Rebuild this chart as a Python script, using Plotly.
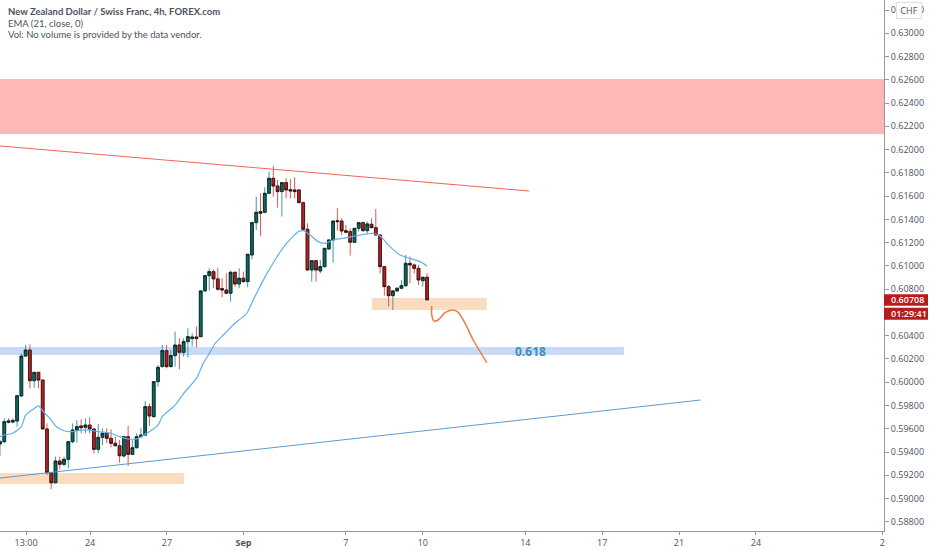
"""NZD/CHF 4h chart with EMA and hand-drawn zones."""

import plotly.graph_objects as go

bar_open = [
    .59469, .59489, .59655, .59658, .59667, .59882, .60225, .60277, .60013, .60085,
    .60019, .59598, .59222, .59136, .59323, .59294, .59337, .59489, .59589, .59624,
    .59612, .59632, .59598, .59423, .59526, .59561, .59518, .59475, .59454, .59366,
    .59532, .59380, .59437, .59532, .59546, .59790, .59704, .60005, .60134, .60272,
    .60134, .60229, .60320, .60257, .60349, .60375, .60389, .60392, .60785, .60916,
    .60951, .60888, .60805, .60793, .60765, .60945, .60845, .60894, .60865, .61094,
    .61372, .61467, .61461, .61624, .61753, .61687, .61639, .61716, .61656, .61653,
    .61653, .61544, .61315, .60965, .61045, .60957, .60994, .61146, .61223, .61389,
    .61386, .61303, .61295, .61203, .61323, .61372, .61303, .61358, .61329, .61266,
    .60994, .60822, .60744, .60785, .60808, .60830, .61022, .61008, .60979, .60873, .60902,
]
bar_high = [
    .59503, .59690, .59690, .59690, .59890, .60248, .60320, .60326, .60085, .60085,
    .60019, .59646, .59222, .59360, .59360, .59360, .59489, .59646, .59675, .59681,
    .59690, .59698, .59598, .59641, .59604, .59604, .59595, .59532, .59503, .59538,
    .59624, .59503, .59561, .59604, .59839, .59818, .60005, .60148, .60320, .60320,
    .60277, .60435, .60378, .60378, .60464, .60421, .60478, .60785, .60922, .60980,
    .60971, .60985, .60894, .60937, .60959, .60951, .60980, .60951, .61100, .61381,
    .61596, .61624, .61676, .61811, .61859, .61739, .61716, .61753, .61748, .61762,
    .61659, .61553, .61366, .61045, .61045, .61051, .61151, .61229, .61389, .61495,
    .61409, .61352, .61323, .61323, .61372, .61381, .61381, .61409, .61490, .61272,
    .60994, .60836, .60793, .60813, .60879, .61094, .61080, .61022, .61008, .60908, .60936,
]
bar_low = [
    .59366, .59475, .59646, .59646, .59618, .59876, .60220, .59947, .59953, .59947,
    .59598, .59202, .59082, .59131, .59251, .59280, .59260, .59475, .59480, .59561,
    .59561, .59561, .59389, .59389, .59460, .59475, .59440, .59452, .59308, .59354,
    .59280, .59380, .59432, .59518, .59538, .59624, .59698, .59962, .60128, .60119,
    .60128, .60134, .60111, .60220, .60214, .60306, .60297, .60392, .60779, .60788,
    .60808, .60788, .60730, .60759, .60693, .60822, .60808, .60856, .60816, .61057,
    .61309, .61258, .61452, .61624, .61596, .61501, .61424, .61581, .61581, .61581,
    .61538, .61309, .60959, .60865, .60865, .60936, .60985, .61137, .61028, .61303,
    .61266, .61280, .61088, .61203, .61295, .61295, .61272, .61323, .61260, .60936,
    .60744, .60650, .60621, .60779, .60802, .60822, .60851, .60936, .60836, .60822, .60708,
]
bar_close = [
    .59489, .59661, .59667, .59672, .59884, .60225, .60277, .60013, .60085, .60019,
    .59598, .59222, .59136, .59323, .59294, .59337, .59489, .59589, .59618, .59609,
    .59632, .59598, .59423, .59526, .59561, .59518, .59475, .59454, .59368, .59532,
    .59380, .59437, .59532, .59546, .59790, .59710, .60005, .60128, .60272, .60134,
    .60229, .60320, .60257, .60349, .60392, .60389, .60375, .60785, .60916, .60951,
    .60888, .60799, .60793, .60765, .60945, .60845, .60894, .60865, .61100, .61372,
    .61461, .61452, .61624, .61753, .61687, .61639, .61716, .61653, .61644, .61639,
    .61544, .61315, .60965, .61045, .60965, .60994, .61151, .61223, .61386, .61381,
    .61300, .61289, .61203, .61323, .61372, .61303, .61361, .61329, .61266, .60994,
    .60822, .60744, .60785, .60808, .60830, .61022, .61008, .60979, .60879, .60902, .60708,
]
bars = list(range(len(bar_open)))

ema_bar = [
    0, 1, 3, 5, 6, 8, 9, 10, 12, 13, 15, 17, 19, 21, 23, 26, 28, 30, 32, 34, 37,
    38, 41, 43, 46, 47.6, 48.8, 50.4, 52.3, 55, 57.8, 59.3, 62.1, 64.4, 67.1,
    69.9, 71, 72.6, 74.5, 76.1, 78, 81.2, 84.3, 87.4, 89, 91.3, 93.7, 96, 98.4, 100,
]
ema_price = [
    .59532, .59546, .59561, .59618, .59718, .59775, .59796, .59755, .59675, .59624,
    .59583, .59575, .59589, .59589, .59575, .59561, .59532, .59512, .59512, .59552,
    .59632, .59704, .59804, .59904, .60033, .60162, .60234, .60335, .60406, .60507,
    .60593, .60707, .60908, .61051, .61194, .61295, .61303, .61266, .61209, .61194,
    .61223, .61243, .61266, .61280, .61257, .61166, .61094, .61065, .61037, .61000,
]

resistance_bar = [0, 123.9]
resistance_price = [.62031, .61644]
support_bar = [0, 164]
support_price = [.59176, .59847]

path_bar = [101.1, 101.1, 101.6, 102.6, 104.2, 106, 107.3, 108.9, 110.8, 114]
path_price = [.60656, .60578, .60527, .60535, .60598, .60621, .60601, .60507, .60363, .60168]

# zones: bar from, bar to, price top, price bottom, colour
red_zone = (0, 207, .62607, .62134, "#ffb7b7")
fib_zone = (0, 146.1, .60303, .60234, "#c9daf8")
low_zone = (0, 43.1, .59220, .59125, "#fcdcc0")
mid_zone = (87.1, 114, .60724, .60621, "#fcdcc0")

x_tick_bars = [6.1, 21.1, 39.1, 57, 81, 99, 123, 141, 159, 177, 206.6]
x_tick_text = ["13:00", "24", "27", "<b>Sep</b>", "7", "10", "14", "17", "21", "24", "2"]
y_ticks = [.588 + .002 * i for i in range(23)]
# the 0.60600 label sits under the last-price tag, so it stays blank
y_tick_text = ["" if i == 9 else f"{v:.5f}" for i, v in enumerate(y_ticks)]

last_price = .60708
countdown = "01:29:41"
legend_lines = [
    "New Zealand Dollar / Swiss Franc, 4h, FOREX.com",
    "EMA (21, close, 0)",
    "Vol: No volume is provided by the data vendor.",
]

TEXT = "#4c525e"
FONT = "Open Sans"
UP_BODY, DOWN_BODY = "#0a6b5d", "#bd1f1f"
UP_WICK, DOWN_WICK = "#3f9aa0", "#dc5a55"
TAG = "#b71c1c"

fig = go.Figure()

for x0, x1, top, bottom, colour in (red_zone, fib_zone, low_zone, mid_zone):
    fig.add_shape(
        type="rect", x0=x0, x1=x1, y0=bottom, y1=top, xref="x", yref="y",
        fillcolor=colour, line_width=0, layer="below",
    )

fig.add_trace(go.Scatter(
    x=ema_bar, y=ema_price, mode="lines",
    line=dict(color="#62b1ea", width=1.2, shape="spline", smoothing=0.6),
))

# Wicks first, black-edged bodies on top (plotly shares one line colour per candle)
fig.add_trace(go.Candlestick(
    x=bars, open=bar_open, high=bar_high, low=bar_low, close=bar_close,
    increasing=dict(line=dict(color=UP_WICK, width=1), fillcolor=UP_WICK),
    decreasing=dict(line=dict(color=DOWN_WICK, width=1), fillcolor=DOWN_WICK),
))
fig.add_trace(go.Candlestick(
    x=bars, open=bar_open, close=bar_close,
    high=[max(o, c) for o, c in zip(bar_open, bar_close)],
    low=[min(o, c) for o, c in zip(bar_open, bar_close)],
    increasing=dict(line=dict(color="#14181a", width=0.8), fillcolor=UP_BODY),
    decreasing=dict(line=dict(color="#14181a", width=0.8), fillcolor=DOWN_BODY),
))

fig.add_trace(go.Scatter(
    x=resistance_bar, y=resistance_price, mode="lines",
    line=dict(color="#f2645a", width=1),
))
fig.add_trace(go.Scatter(
    x=support_bar, y=support_price, mode="lines",
    line=dict(color="#5b9bd0", width=1),
))
fig.add_trace(go.Scatter(
    x=path_bar, y=path_price, mode="lines",
    line=dict(color="#f07a3e", width=1.5, shape="spline", smoothing=0.7),
))

fig.add_annotation(
    x=124.2, y=.60268, xref="x", yref="y", text="<b>0.618</b>", showarrow=False,
    font=dict(family=FONT, size=12, color="#3d8fb8"),
)

for i, line in enumerate(legend_lines):
    fig.add_annotation(
        x=0, y=1, xref="paper", yref="paper", xanchor="left", yanchor="top",
        xshift=6, yshift=-4 - 11.5 * i, showarrow=False,
        text=f"<b>{line}</b>" if i == 0 else line,
        font=dict(family="Lato", size=9.5, color=TEXT),
    )

# price tag and countdown on the right axis
for y0, y1, text, shift in ((-6, 5.5, f"{last_price:.5f}", 0), (-20, -8, countdown, -14)):
    fig.add_shape(
        type="rect", xref="paper", xsizemode="pixel", xanchor=1, x0=0, x1=44,
        yref="y", ysizemode="pixel", yanchor=last_price, y0=y0, y1=y1,
        fillcolor=TAG, line_width=0,
    )
    fig.add_annotation(
        x=1, y=last_price, xref="paper", yref="y", xanchor="left", showarrow=False,
        xshift=5, yshift=shift, text=text,
        font=dict(family=FONT, size=9, color="white", weight=600),
    )
fig.add_annotation(
    x=1, y=.632, xref="paper", yref="y", xanchor="left", showarrow=False, xshift=12,
    text="CHF", width=22, height=13, bgcolor="white", bordercolor="#dfe1e6", borderwidth=1,
    font=dict(family=FONT, size=9, color=TEXT),
)

fig.update_layout(
    width=932, height=550,
    margin=dict(l=0, r=48, t=0, b=19),
    paper_bgcolor="white", plot_bgcolor="white",
    showlegend=False, boxgap=0.08,
    xaxis=dict(
        range=[0, 207], showgrid=False, zeroline=False, rangeslider_visible=False,
        tickmode="array", tickvals=x_tick_bars, ticktext=x_tick_text,
        ticks="outside", ticklen=3, tickcolor="#9598a1",
        showline=True, linecolor="#9598a1", linewidth=1,
        tickfont=dict(family=FONT, size=9, color=TEXT),
    ),
    yaxis=dict(
        range=[.58721, .63286], side="right", showgrid=False, zeroline=False,
        tickmode="array", tickvals=y_ticks, ticktext=y_tick_text,
        ticks="outside", ticklen=4, tickcolor="#9598a1",
        showline=True, linecolor="#9598a1", linewidth=1,
        tickfont=dict(family=FONT, size=9, color=TEXT),
    ),
)

# default page has an 8px body margin, which pushes the chart off the window
fig.write_html(
    "out.html", config=dict(displayModeBar=False),
    post_script="document.body.style.margin = '0';",
)
